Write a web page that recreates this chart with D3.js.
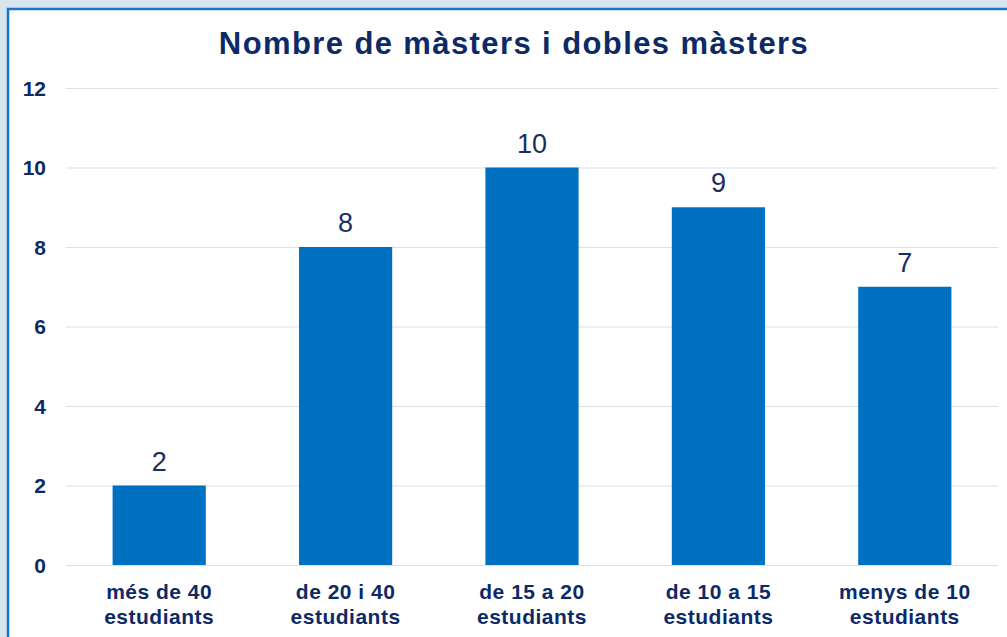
<!DOCTYPE html>
<html><head><meta charset="utf-8">
<script src="https://cdn.jsdelivr.net/npm/d3@7"></script>
<style>
html,body{margin:0;padding:0;background:#d6e5ee;}
svg{display:block;}
</style></head>
<body>
<svg id="chart" width="1007" height="637"></svg>
<script>
const categories = [["més de 40","estudiants"],["de 20 i 40","estudiants"],["de 15 a 20","estudiants"],["de 10 a 15","estudiants"],["menys de 10","estudiants"]];
const values = [2, 8, 10, 9, 7];
const yTicks = [0, 2, 4, 6, 8, 10, 12];
const title = "Nombre de màsters i dobles màsters";

const svg = d3.select("#chart");
const W = 1007, H = 637;
const font = "Liberation Sans, Arial, sans-serif";
// frame
svg.append("rect").attr("x",0).attr("y",0).attr("width",W).attr("height",H).attr("fill","#d6e5ee");
svg.append("rect").attr("x",8).attr("y",9).attr("width",W).attr("height",H).attr("fill","#ffffff")
  .attr("stroke","#1b74c5").attr("stroke-width",2.5);

const x = d3.scaleBand().domain(d3.range(categories.length)).range([66, 998]).paddingInner(0.5).paddingOuter(0.25);
const y = d3.scaleLinear().domain([0, 12]).range([565, 88]);

const navy = "#0d2a66";
svg.append("text").attr("x", 514).attr("y", 54).attr("text-anchor","middle")
  .attr("font-family",font).attr("font-weight","bold")
  .attr("font-size", 31).attr("letter-spacing", 1.4).attr("fill", navy).text(title);

// gridlines
svg.append("g").selectAll("line").data(yTicks).join("line")
  .attr("x1", 66).attr("x2", 998).attr("y1", d=>y(d)+0.5).attr("y2", d=>y(d)+0.5)
  .attr("stroke","#dedfe6").attr("stroke-width",1.2);

// y axis labels
const yAxis = d3.axisLeft(y).tickValues(yTicks).tickSize(0).tickPadding(0);
const yg = svg.append("g").attr("transform","translate(46,0)").call(yAxis);
yg.select(".domain").remove();
yg.selectAll("text").attr("font-family",font).attr("font-weight","bold")
  .attr("font-size",21).attr("fill",navy).attr("dy","0.35em");

// bars
svg.append("g").selectAll("rect").data(values).join("rect")
  .attr("x",(d,i)=>x(i)).attr("width",x.bandwidth())
  .attr("y",d=>y(d)).attr("height",d=>y(0)-y(d)).attr("fill","#0070c0");

// value labels
svg.append("g").selectAll("text").data(values).join("text")
  .attr("x",(d,i)=>x(i)+x.bandwidth()/2).attr("y",d=>y(d)-15)
  .attr("text-anchor","middle").attr("font-family",font)
  .attr("font-size",27).attr("fill","#1b2f5e").text(d=>d);

// x labels
const xg = svg.append("g");
categories.forEach((c,i)=>{
  const t = xg.append("text").attr("text-anchor","middle")
    .attr("font-family",font).attr("font-weight","bold")
    .attr("font-size",21).attr("letter-spacing",0.5).attr("fill",navy);
  c.forEach((line,j)=>{
    t.append("tspan").attr("x", x(i)+x.bandwidth()/2).attr("y", 599 + j*25).text(line);
  });
});
</script>
</body></html>
